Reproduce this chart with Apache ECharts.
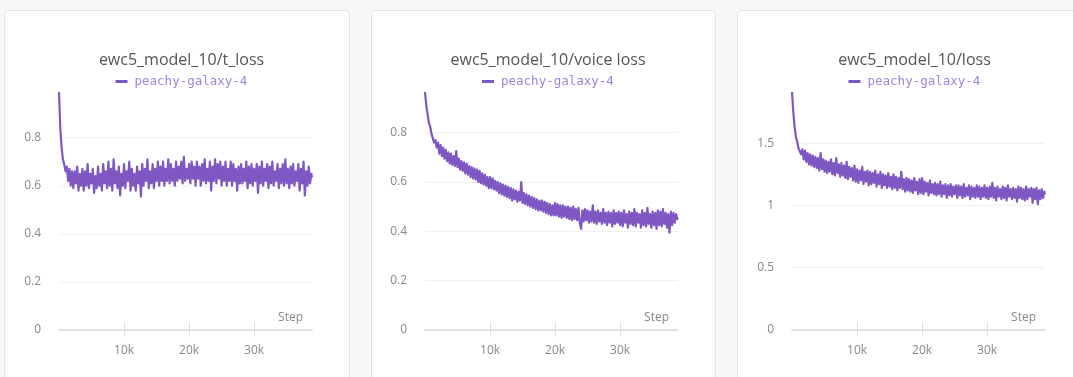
<!DOCTYPE html>
<html>
<head>
<meta charset="utf-8">
<script src="https://cdn.jsdelivr.net/npm/echarts@6/dist/echarts.min.js"></script>
<style>
  html, body { margin: 0; padding: 0; background: #f8f8f8; }
  #chart { width: 1073px; height: 377px; }
</style>
</head>
<body>
<div id="chart"></div>
<script>
// Logged every 200 steps; the final entry is the last logged step.
const STEP_STRIDE = 200;
const LAST_STEP = 38900;
const RUN_NAME = 'peachy-galaxy-4';
const PANEL_TITLES = ['ewc5_model_10/t_loss', 'ewc5_model_10/voice loss', 'ewc5_model_10/loss'];
const X_TICKS = [10000, 20000, 30000];
const Y_INTERVALS = [0.2, 0.2, 0.5];

const tLoss = [
  0.99, 0.84, 0.76, 0.71, 0.69, 0.66, 0.68, 0.62, 0.67, 0.60,
  0.66, 0.59, 0.66, 0.61, 0.68, 0.58, 0.65, 0.60, 0.67, 0.58,
  0.66, 0.60, 0.69, 0.59, 0.65, 0.61, 0.67, 0.57, 0.64, 0.59,
  0.68, 0.60, 0.65, 0.58, 0.69, 0.61, 0.66, 0.59, 0.70, 0.60,
  0.67, 0.58, 0.71, 0.61, 0.66, 0.59, 0.68, 0.56, 0.65, 0.60,
  0.69, 0.59, 0.66, 0.62, 0.70, 0.58, 0.67, 0.60, 0.65, 0.58,
  0.68, 0.61, 0.66, 0.555, 0.69, 0.60, 0.67, 0.62, 0.71, 0.59,
  0.66, 0.61, 0.69, 0.59, 0.67, 0.62, 0.70, 0.60, 0.68, 0.62,
  0.70, 0.60, 0.67, 0.62, 0.71, 0.61, 0.69, 0.62, 0.67, 0.60,
  0.70, 0.62, 0.68, 0.63, 0.70, 0.61, 0.72, 0.62, 0.67, 0.63,
  0.69, 0.61, 0.70, 0.63, 0.68, 0.60, 0.70, 0.63, 0.68, 0.60,
  0.69, 0.62, 0.71, 0.61, 0.67, 0.62, 0.70, 0.58, 0.68, 0.62,
  0.71, 0.61, 0.69, 0.63, 0.70, 0.60, 0.68, 0.62, 0.70, 0.60,
  0.67, 0.62, 0.70, 0.60, 0.69, 0.62, 0.67, 0.58, 0.68, 0.61,
  0.69, 0.61, 0.67, 0.62, 0.70, 0.59, 0.68, 0.61, 0.69, 0.60,
  0.67, 0.62, 0.69, 0.57, 0.68, 0.61, 0.70, 0.60, 0.67, 0.62,
  0.69, 0.59, 0.68, 0.61, 0.70, 0.60, 0.66, 0.62, 0.69, 0.59,
  0.67, 0.61, 0.69, 0.60, 0.71, 0.61, 0.67, 0.59, 0.68, 0.61,
  0.69, 0.60, 0.66, 0.62, 0.69, 0.58, 0.67, 0.61, 0.70, 0.56,
  0.66, 0.60, 0.68, 0.61, 0.65, 0.635
];

const voiceLoss = [
  0.965, 0.91, 0.875, 0.84, 0.825, 0.795, 0.79, 0.76, 0.77, 0.74,
  0.76, 0.715, 0.75, 0.705, 0.74, 0.695, 0.73, 0.685, 0.72, 0.675,
  0.715, 0.67, 0.705, 0.665, 0.725, 0.66, 0.695, 0.65, 0.685, 0.645,
  0.68, 0.635, 0.675, 0.63, 0.665, 0.62, 0.66, 0.615, 0.655, 0.61,
  0.65, 0.60, 0.645, 0.595, 0.635, 0.59, 0.63, 0.585, 0.62, 0.575,
  0.62, 0.575, 0.615, 0.57, 0.605, 0.565, 0.60, 0.555, 0.595, 0.55,
  0.59, 0.545, 0.585, 0.54, 0.58, 0.535, 0.575, 0.525, 0.57, 0.53,
  0.565, 0.52, 0.56, 0.525, 0.60, 0.515, 0.555, 0.51, 0.55, 0.505,
  0.545, 0.50, 0.54, 0.495, 0.535, 0.49, 0.53, 0.485, 0.525, 0.485,
  0.525, 0.48, 0.52, 0.475, 0.515, 0.47, 0.51, 0.465, 0.505, 0.465,
  0.515, 0.465, 0.51, 0.46, 0.505, 0.455, 0.505, 0.46, 0.50, 0.455,
  0.50, 0.45, 0.495, 0.445, 0.50, 0.45, 0.49, 0.445, 0.495, 0.435,
  0.41, 0.485, 0.44, 0.49, 0.445, 0.485, 0.435, 0.48, 0.44, 0.505,
  0.435, 0.48, 0.43, 0.485, 0.44, 0.475, 0.43, 0.49, 0.435, 0.475,
  0.425, 0.48, 0.435, 0.475, 0.42, 0.485, 0.43, 0.475, 0.435, 0.48,
  0.425, 0.475, 0.42, 0.485, 0.435, 0.47, 0.415, 0.48, 0.43, 0.475,
  0.425, 0.49, 0.42, 0.475, 0.435, 0.47, 0.415, 0.485, 0.425, 0.475,
  0.42, 0.495, 0.43, 0.47, 0.415, 0.48, 0.425, 0.475, 0.41, 0.485,
  0.425, 0.48, 0.42, 0.49, 0.43, 0.475, 0.415, 0.47, 0.395, 0.48,
  0.425, 0.475, 0.435, 0.47, 0.45, 0.455
];

const totalLoss = [
  1.91, 1.75, 1.63, 1.55, 1.51, 1.46, 1.47, 1.41, 1.45, 1.37,
  1.44, 1.35, 1.42, 1.33, 1.41, 1.32, 1.40, 1.31, 1.39, 1.30,
  1.38, 1.28, 1.42, 1.29, 1.37, 1.27, 1.36, 1.26, 1.35, 1.27,
  1.37, 1.25, 1.34, 1.24, 1.38, 1.26, 1.33, 1.23, 1.34, 1.24,
  1.32, 1.22, 1.35, 1.21, 1.31, 1.23, 1.30, 1.20, 1.32, 1.19,
  1.29, 1.18, 1.28, 1.20, 1.31, 1.17, 1.27, 1.19, 1.28, 1.16,
  1.27, 1.17, 1.26, 1.18, 1.28, 1.15, 1.25, 1.17, 1.27, 1.14,
  1.25, 1.16, 1.24, 1.14, 1.26, 1.15, 1.23, 1.13, 1.25, 1.14,
  1.23, 1.12, 1.22, 1.14, 1.27, 1.13, 1.21, 1.11, 1.22, 1.12,
  1.21, 1.11, 1.20, 1.10, 1.22, 1.12, 1.19, 1.09, 1.21, 1.10,
  1.22, 1.09, 1.19, 1.11, 1.18, 1.08, 1.20, 1.10, 1.17, 1.09,
  1.18, 1.08, 1.17, 1.09, 1.19, 1.07, 1.16, 1.09, 1.17, 1.06,
  1.16, 1.08, 1.17, 1.07, 1.15, 1.09, 1.16, 1.06, 1.16, 1.08,
  1.15, 1.06, 1.17, 1.07, 1.14, 1.08, 1.16, 1.05, 1.15, 1.07,
  1.14, 1.06, 1.16, 1.07, 1.15, 1.05, 1.14, 1.07, 1.16, 1.06,
  1.14, 1.05, 1.15, 1.07, 1.18, 1.06, 1.14, 1.04, 1.15, 1.07,
  1.13, 1.05, 1.15, 1.06, 1.14, 1.04, 1.16, 1.07, 1.13, 1.05,
  1.14, 1.06, 1.13, 1.03, 1.15, 1.06, 1.14, 1.05, 1.13, 1.04,
  1.15, 1.05, 1.13, 1.07, 1.14, 1.02, 1.13, 1.05, 1.14, 1.01,
  1.12, 1.05, 1.13, 1.06, 1.11, 1.09
];

const SERIES_VALUES = [tLoss, voiceLoss, totalLoss];

function toPoints(vals) {
  return vals.map((v, i) => [i === vals.length - 1 ? LAST_STEP : i * STEP_STRIDE, v]);
}

const LINE_COLOR = '#7e57c2';
const LEGEND_TEXT = '#a184d6';
const FONT = '"Open Sans", "Noto Sans", sans-serif';

// Panel frames and plot boxes (pixels)
const panels = [
  { frameX: 4,   frameW: 345, plotX: 59,  plotW: 253 },
  { frameX: 371, frameW: 344, plotX: 425, plotW: 253 },
  { frameX: 737, frameW: 345, plotX: 792, plotW: 253 }
];
const PLOT_TOP = 92;
const PLOT_BOTTOM = 47;

const chart = echarts.init(document.getElementById('chart'), null, { renderer: 'canvas' });

const grid = [], xAxis = [], yAxis = [], series = [], title = [], legend = [], graphic = [];

panels.forEach((p, i) => {
  graphic.push({
    type: 'rect', z: -10, silent: true,
    shape: { x: p.frameX + 0.5, y: 10.5, width: p.frameW, height: 400, r: 4 },
    style: { fill: '#ffffff', stroke: '#e3e3e3', lineWidth: 1 }
  });

  grid.push({ left: p.plotX, top: PLOT_TOP, width: p.plotW, bottom: PLOT_BOTTOM, containLabel: false });

  const center = p.frameX + p.frameW / 2;
  title.push({
    text: PANEL_TITLES[i], left: center, top: 47, textAlign: 'center',
    textStyle: { fontFamily: FONT, fontSize: 16, fontWeight: 'normal', color: '#555555' }
  });

  legend.push({
    data: [RUN_NAME], left: center - 66, top: 70,
    icon: 'rect', itemWidth: 12, itemHeight: 3, selectedMode: false,
    textStyle: { fontFamily: '"DejaVu Sans Mono", monospace', fontSize: 12.5, color: LEGEND_TEXT, padding: [0, 0, 0, 2] }
  });

  // main step axis: labels, upward ticks, axis line
  xAxis.push({
    type: 'value', gridIndex: i, min: 0, max: LAST_STEP, interval: 10000,
    position: 'bottom',
    name: 'Step', nameLocation: 'end', nameGap: -9,
    nameTextStyle: { fontFamily: FONT, fontSize: 12, color: '#888888', align: 'right', verticalAlign: 'bottom', padding: [0, 0, 6, 0] },
    axisLine: { show: true, lineStyle: { color: '#e2e2e2', width: 2 } },
    axisTick: { show: true, inside: true, length: 8, customValues: X_TICKS, lineStyle: { color: '#e2e2e2', width: 1 } },
    axisLabel: {
      customValues: X_TICKS, margin: 15,
      fontFamily: FONT, fontSize: 12, color: '#888888',
      formatter: v => (v / 1000) + 'k'
    },
    splitLine: { show: false }
  });
  // companion axis carrying the downward half of each tick
  xAxis.push({
    type: 'value', gridIndex: i, min: 0, max: LAST_STEP, interval: 10000,
    position: 'bottom', offset: 0,
    axisLine: { show: false },
    axisTick: { show: true, inside: false, length: 7, customValues: X_TICKS, lineStyle: { color: '#e2e2e2', width: 1 } },
    axisLabel: { show: false },
    splitLine: { show: false }
  });

  yAxis.push({
    type: 'value', gridIndex: i, min: 0, max: v => v.max, interval: Y_INTERVALS[i],
    axisLine: { show: false }, axisTick: { show: false },
    axisLabel: { margin: 18, fontFamily: FONT, fontSize: 12, color: '#888888', showMaxLabel: false },
    splitLine: { show: true, showMaxLine: false, lineStyle: { color: '#f0f0f0', width: 1 } }
  });

  series.push({
    type: 'line', name: RUN_NAME, xAxisIndex: i * 2, yAxisIndex: i,
    data: toPoints(SERIES_VALUES[i]),
    showSymbol: false, symbol: 'none', smooth: false,
    lineStyle: { color: LINE_COLOR, width: 2.2, join: 'round' },
    itemStyle: { color: LINE_COLOR },
    animation: false
  });
});

chart.setOption({
  backgroundColor: 'transparent',
  animation: false,
  title, legend, grid, xAxis, yAxis, series, graphic
});
</script>
</body>
</html>
